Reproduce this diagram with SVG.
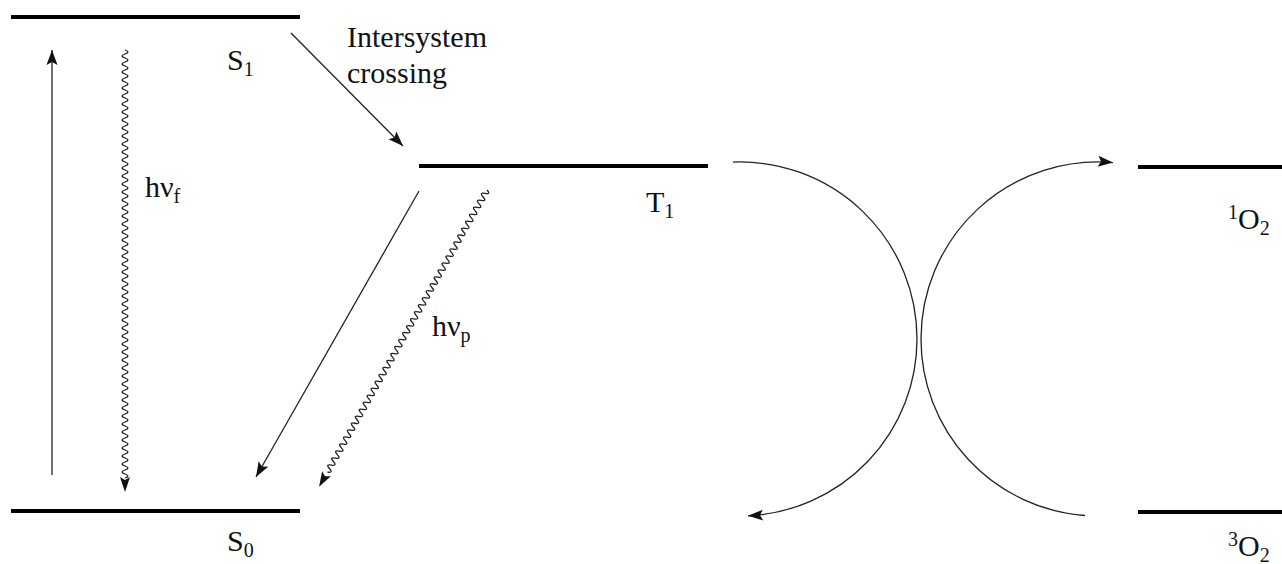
<svg xmlns="http://www.w3.org/2000/svg" width="1282" height="564" viewBox="0 0 1282 564">
<style>
.level{stroke:#000;stroke-width:4;fill:none}
.arr{stroke:#222;stroke-width:1.3;fill:none}
.wave{stroke:#222;stroke-width:1.3;fill:none}
.head{fill:#111;stroke:none}
text{font-family:"Liberation Serif","Times New Roman",serif;font-size:30px;fill:#111}
.sub{font-size:20px}
</style>
<defs>
<marker id="ah" markerUnits="userSpaceOnUse" markerWidth="18" markerHeight="12" viewBox="0 0 18 12" refX="16" refY="6" orient="auto">
<path d="M16,6 L1,0.5 L4,6 L1,11.5 Z" fill="#111"/>
</marker>
</defs>
<rect width="1282" height="564" fill="#fff"/>
<g id="S1"><line class="level" x1="11" y1="17" x2="300" y2="17"/><text x="227" y="70">S<tspan class="sub" dy="6">1</tspan></text></g>
<g id="S0"><line class="level" x1="11" y1="511" x2="300" y2="511"/><text x="227" y="551">S<tspan class="sub" dy="6">0</tspan></text></g>
<g id="T1"><line class="level" x1="419" y1="166" x2="708" y2="166"/><text x="646" y="212">T<tspan class="sub" dy="6">1</tspan></text></g>
<g id="O2singlet"><line class="level" x1="1138" y1="167" x2="1282" y2="167"/><text x="1228" y="229"><tspan class="sub" dy="-10">1</tspan><tspan dy="10">O</tspan><tspan class="sub" dy="6">2</tspan></text></g>
<g id="O2triplet"><line class="level" x1="1138" y1="512" x2="1282" y2="512"/><text x="1228" y="556"><tspan class="sub" dy="-10">3</tspan><tspan dy="10">O</tspan><tspan class="sub" dy="6">2</tspan></text></g>
<g id="connectors">
<line class="arr" x1="52" y1="475" x2="52" y2="50" marker-end="url(#ah)"/>
<g transform="translate(125,50) rotate(90)">
<path class="wave" d="M0,0 q2,-6 4,0 t
4,0 4,0 4,0 4,0 4,0 4,0 4,0 4,0 4,0 4,0
4,0 4,0 4,0 4,0 4,0 4,0 4,0 4,0 4,0 4,0
4,0 4,0 4,0 4,0 4,0 4,0 4,0 4,0 4,0 4,0
4,0 4,0 4,0 4,0 4,0 4,0 4,0 4,0 4,0 4,0
4,0 4,0 4,0 4,0 4,0 4,0 4,0 4,0 4,0 4,0
4,0 4,0 4,0 4,0 4,0 4,0 4,0 4,0 4,0 4,0
4,0 4,0 4,0 4,0 4,0 4,0 4,0 4,0 4,0 4,0
4,0 4,0 4,0 4,0 4,0 4,0 4,0 4,0 4,0 4,0
4,0 4,0 4,0 4,0 4,0 4,0 4,0 4,0 4,0 4,0
4,0 4,0 4,0 4,0 4,0 4,0 4,0 4,0 4,0 4,0
4,0 4,0 4,0 4,0 4,0 4,0"/>
<path class="head" d="M442,0 L427,-5 L430,0 L427,5 Z"/>
</g>
<line class="arr" x1="291" y1="33" x2="403" y2="146" marker-end="url(#ah)"/>
<line class="arr" x1="419" y1="191" x2="256" y2="477" marker-end="url(#ah)"/>
<g transform="translate(487,190) rotate(119.5)">
<path class="wave" d="M0,0 q2,-6 4,0 t
4,0 4,0 4,0 4,0 4,0 4,0 4,0 4,0 4,0 4,0
4,0 4,0 4,0 4,0 4,0 4,0 4,0 4,0 4,0 4,0
4,0 4,0 4,0 4,0 4,0 4,0 4,0 4,0 4,0 4,0
4,0 4,0 4,0 4,0 4,0 4,0 4,0 4,0 4,0 4,0
4,0 4,0 4,0 4,0 4,0 4,0 4,0 4,0 4,0 4,0
4,0 4,0 4,0 4,0 4,0 4,0 4,0 4,0 4,0 4,0
4,0 4,0 4,0 4,0 4,0 4,0 4,0 4,0 4,0 4,0
4,0 4,0 4,0 4,0 4,0 4,0 4,0 4,0 4,0 4,0"/>
<path class="head" d="M341,0 L326,-5 L329,0 L326,5 Z"/>
</g>
<path class="arr" d="M733,162.1 A177,177 0 0 1 917,339 A177,177 0 0 1 748,515.8" marker-end="url(#ah)"/>
<path class="arr" d="M1085,515.5 A177,177 0 0 1 921,339 A177,177 0 0 1 1113,162.6" marker-end="url(#ah)"/>
</g>
<g id="labels">
<text x="347" y="47">Intersystem</text>
<text x="347" y="83">crossing</text>
<text x="145" y="197">hν<tspan class="sub" dy="6">f</tspan></text>
<text x="432" y="336">hν<tspan class="sub" dy="6">p</tspan></text>
</g>
</svg>
